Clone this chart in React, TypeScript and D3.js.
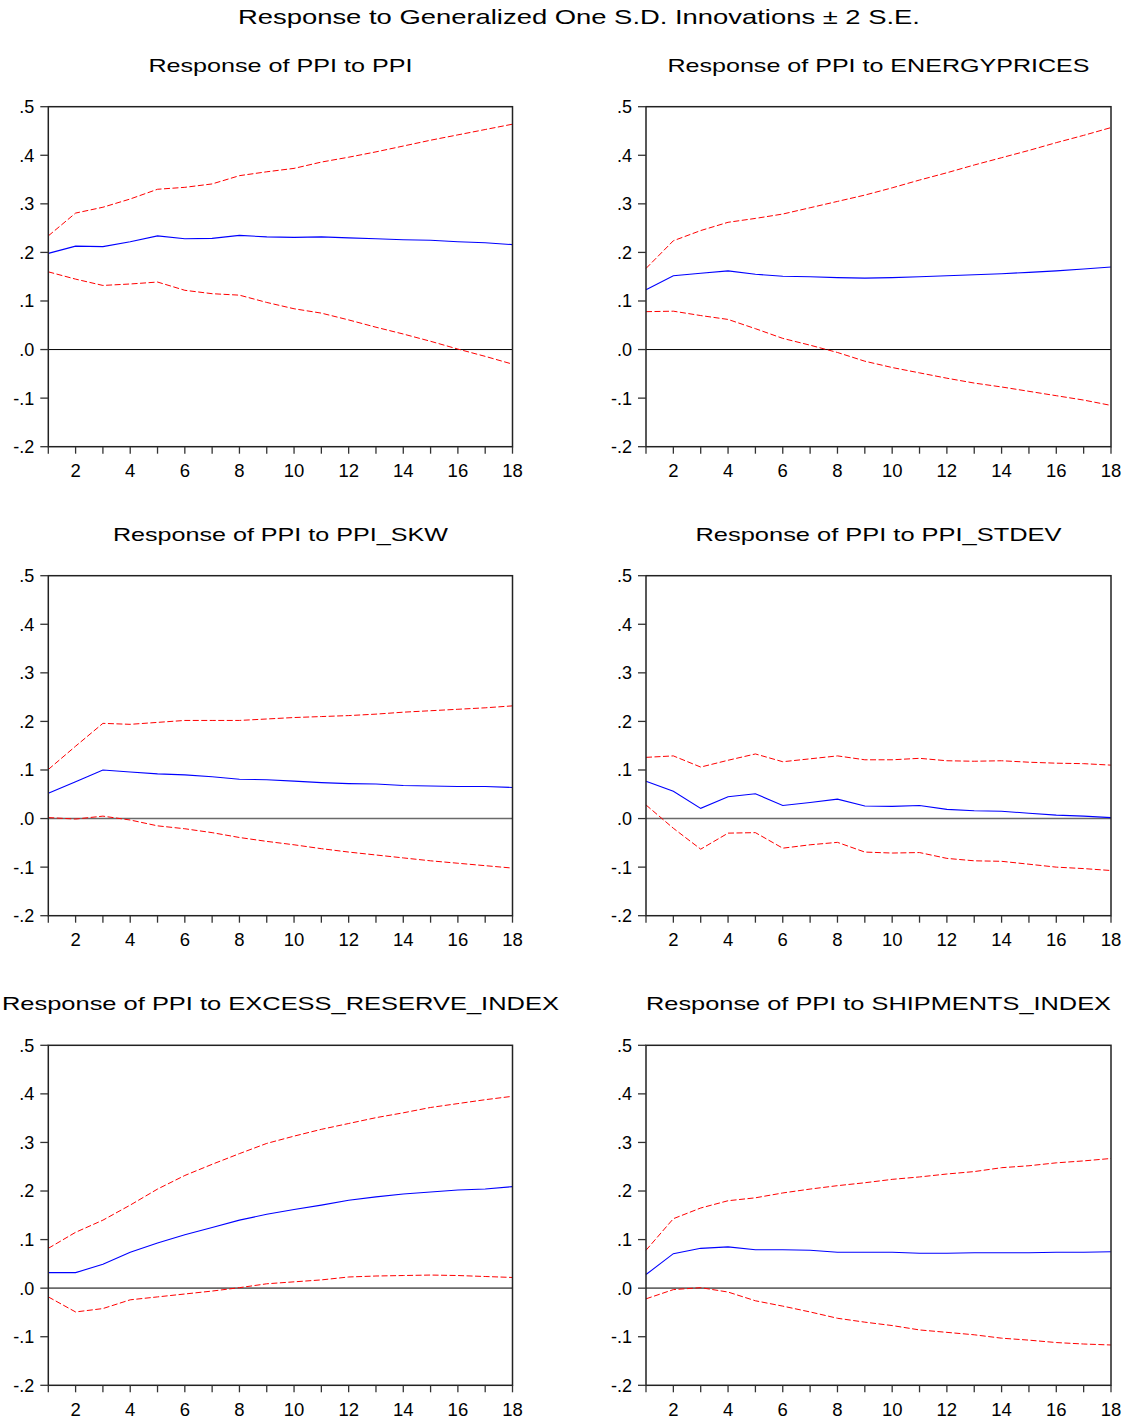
import React from "react";
import * as d3 from "d3";

const periods = d3.range(1, 19);
const yTicks = [0.5, 0.4, 0.3, 0.2, 0.1, 0.0, -0.1, -0.2];
const xTickLabels = [2, 4, 6, 8, 10, 12, 14, 16, 18];

const mainTitle = "Response to Generalized One S.D. Innovations \u00b1 2 S.E.";

const titles = [
  "Response of PPI to PPI",
  "Response of PPI to ENERGYPRICES",
  "Response of PPI to PPI_SKW",
  "Response of PPI to PPI_STDEV",
  "Response of PPI to EXCESS_RESERVE_INDEX",
  "Response of PPI to SHIPMENTS_INDEX",
];

// PPI to PPI
const ppiMid = [0.198, 0.213, 0.212, 0.222, 0.234, 0.228, 0.229, 0.235, 0.232, 0.231, 0.232, 0.230, 0.228, 0.226, 0.225, 0.222, 0.220, 0.216];
const ppiUp = [0.234, 0.281, 0.293, 0.310, 0.330, 0.334, 0.341, 0.358, 0.366, 0.373, 0.386, 0.396, 0.407, 0.419, 0.431, 0.442, 0.453, 0.464];
const ppiLo = [0.160, 0.145, 0.132, 0.135, 0.139, 0.122, 0.115, 0.112, 0.097, 0.084, 0.075, 0.061, 0.046, 0.032, 0.017, 0.001, -0.014, -0.030];

// PPI to ENERGYPRICES
const enMid = [0.123, 0.152, 0.157, 0.162, 0.155, 0.151, 0.150, 0.148, 0.147, 0.148, 0.150, 0.152, 0.154, 0.156, 0.159, 0.162, 0.166, 0.170];
const enUp = [0.167, 0.224, 0.245, 0.262, 0.270, 0.279, 0.292, 0.305, 0.318, 0.333, 0.349, 0.364, 0.380, 0.395, 0.410, 0.426, 0.441, 0.457];
const enLo = [0.078, 0.079, 0.070, 0.062, 0.043, 0.023, 0.009, -0.006, -0.024, -0.037, -0.048, -0.059, -0.069, -0.077, -0.086, -0.095, -0.104, -0.115];

// PPI to PPI_SKW
const skwMid = [0.052, 0.076, 0.100, 0.096, 0.092, 0.090, 0.086, 0.081, 0.080, 0.077, 0.074, 0.072, 0.071, 0.068, 0.067, 0.066, 0.066, 0.064];
const skwUp = [0.101, 0.149, 0.196, 0.194, 0.198, 0.202, 0.202, 0.202, 0.205, 0.208, 0.210, 0.212, 0.215, 0.219, 0.222, 0.225, 0.228, 0.232];
const skwLo = [0.002, -0.001, 0.005, -0.003, -0.015, -0.021, -0.029, -0.039, -0.047, -0.054, -0.062, -0.069, -0.075, -0.081, -0.087, -0.092, -0.097, -0.102];

// PPI to PPI_STDEV
const sdMid = [0.077, 0.056, 0.021, 0.045, 0.051, 0.027, 0.033, 0.040, 0.026, 0.025, 0.027, 0.019, 0.016, 0.015, 0.011, 0.007, 0.005, 0.002];
const sdUp = [0.126, 0.129, 0.106, 0.120, 0.133, 0.117, 0.123, 0.129, 0.121, 0.121, 0.124, 0.119, 0.118, 0.119, 0.116, 0.114, 0.113, 0.110];
const sdLo = [0.028, -0.020, -0.063, -0.030, -0.029, -0.061, -0.054, -0.049, -0.069, -0.071, -0.070, -0.082, -0.087, -0.088, -0.094, -0.100, -0.103, -0.107];

// PPI to EXCESS_RESERVE_INDEX
const exMid = [0.032, 0.032, 0.049, 0.074, 0.093, 0.110, 0.125, 0.140, 0.152, 0.162, 0.171, 0.181, 0.188, 0.194, 0.198, 0.202, 0.204, 0.209];
const exUp = [0.082, 0.115, 0.140, 0.171, 0.204, 0.232, 0.255, 0.277, 0.298, 0.313, 0.327, 0.339, 0.351, 0.361, 0.372, 0.380, 0.388, 0.395];
const exLo = [-0.018, -0.049, -0.042, -0.024, -0.018, -0.012, -0.006, 0.001, 0.009, 0.013, 0.017, 0.023, 0.025, 0.026, 0.027, 0.026, 0.024, 0.022];

// PPI to SHIPMENTS_INDEX
const shMid = [0.028, 0.071, 0.082, 0.085, 0.079, 0.079, 0.078, 0.074, 0.074, 0.074, 0.072, 0.072, 0.073, 0.073, 0.073, 0.074, 0.074, 0.075];
const shUp = [0.078, 0.143, 0.165, 0.180, 0.186, 0.196, 0.204, 0.211, 0.217, 0.224, 0.229, 0.235, 0.240, 0.248, 0.252, 0.258, 0.262, 0.267];
const shLo = [-0.022, -0.003, 0.001, -0.008, -0.026, -0.037, -0.049, -0.062, -0.070, -0.077, -0.086, -0.091, -0.096, -0.103, -0.107, -0.112, -0.115, -0.117];

const panels = [
  { title: titles[0], mid: ppiMid, up: ppiUp, lo: ppiLo },
  { title: titles[1], mid: enMid, up: enUp, lo: enLo },
  { title: titles[2], mid: skwMid, up: skwUp, lo: skwLo },
  { title: titles[3], mid: sdMid, up: sdUp, lo: sdLo },
  { title: titles[4], mid: exMid, up: exUp, lo: exLo },
  { title: titles[5], mid: shMid, up: shUp, lo: shLo },
];

// layout
const colLeft = [48.3, 646];
const colRight = [512.5, 1111];
const rowTop = [106.7, 575.7, 1045.3];
const plotH = 340;
const titleWidths = [264, 422, 335, 366, 557, 465];

const FONT = "'Liberation Sans', Arial, sans-serif";

function Panel({ idx, p }: { idx: number; p: any }) {
  const col = idx % 2;
  const row = Math.floor(idx / 2);
  const x0 = colLeft[col];
  const x1 = colRight[col];
  const y0 = rowTop[row];
  const y1 = y0 + plotH;
  const x = d3.scaleLinear().domain([1, 18]).range([x0, x1]);
  const y = d3.scaleLinear().domain([-0.2, 0.5]).range([y1, y0]);
  const line = d3
    .line<number>()
    .x((_, i) => x(periods[i]))
    .y((v) => y(v));
  const fmt = (v: number) => v.toFixed(1).replace("0.", ".");
  const zeroColor = row === 0 ? "#000" : "#6a6a6a";
  const zeroW = row === 0 ? 1 : 1.6;
  const cx = (x0 + x1) / 2;
  return (
    <g>
      <text
        x={cx}
        y={y0 - 35}
        textAnchor="middle"
        fontSize={18.5}
        fontFamily={FONT}
        textLength={titleWidths[idx]}
        lengthAdjust="spacingAndGlyphs"
        fill="#000"
      >
        {p.title}
      </text>
      <line x1={x0} x2={x1} y1={y(0)} y2={y(0)} stroke={zeroColor} strokeWidth={zeroW} />
      <path d={line(p.up) || ""} fill="none" stroke="#ff0000" strokeWidth={1} strokeDasharray="6,2.5" />
      <path d={line(p.lo) || ""} fill="none" stroke="#ff0000" strokeWidth={1} strokeDasharray="6,2.5" />
      <path d={line(p.mid) || ""} fill="none" stroke="#0000ff" strokeWidth={1.1} />
      <rect x={x0} y={y0} width={x1 - x0} height={plotH} fill="none" stroke="#222" strokeWidth={1.5} />
      {yTicks.map((t) => (
        <g key={"y" + t}>
          <line x1={x0 - 8} x2={x0} y1={y(t)} y2={y(t)} stroke="#333" strokeWidth={1.3} />
          <text
            x={x0 - 14}
            y={y(t)}
            dy="0.36em"
            textAnchor="end"
            fontSize={18}
            fontFamily={FONT}
            fill="#000"
          >
            {fmt(t)}
          </text>
        </g>
      ))}
      {periods.map((t) => (
        <line key={"xt" + t} x1={x(t)} x2={x(t)} y1={y1} y2={y1 + 7} stroke="#333" strokeWidth={1.3} />
      ))}
      {xTickLabels.map((t) => (
        <text
          key={"xl" + t}
          x={x(t)}
          y={y1 + 30.5}
          textAnchor="middle"
          fontSize={18.5}
          fontFamily={FONT}
          fill="#000"
        >
          {t}
        </text>
      ))}
    </g>
  );
}

export default function App() {
  return (
    <svg
      width={1125}
      height={1423}
      style={{ position: "absolute", left: 0, top: 0, background: "#fff" }}
    >
      <rect x={0} y={0} width={1125} height={1423} fill="#fff" />
      <text
        x={579}
        y={24}
        textAnchor="middle"
        fontSize={21}
        fontFamily={FONT}
        textLength={682}
        lengthAdjust="spacingAndGlyphs"
        fill="#000"
      >
        {mainTitle}
      </text>
      {panels.map((p, i) => (
        <Panel key={i} idx={i} p={p} />
      ))}
    </svg>
  );
}
